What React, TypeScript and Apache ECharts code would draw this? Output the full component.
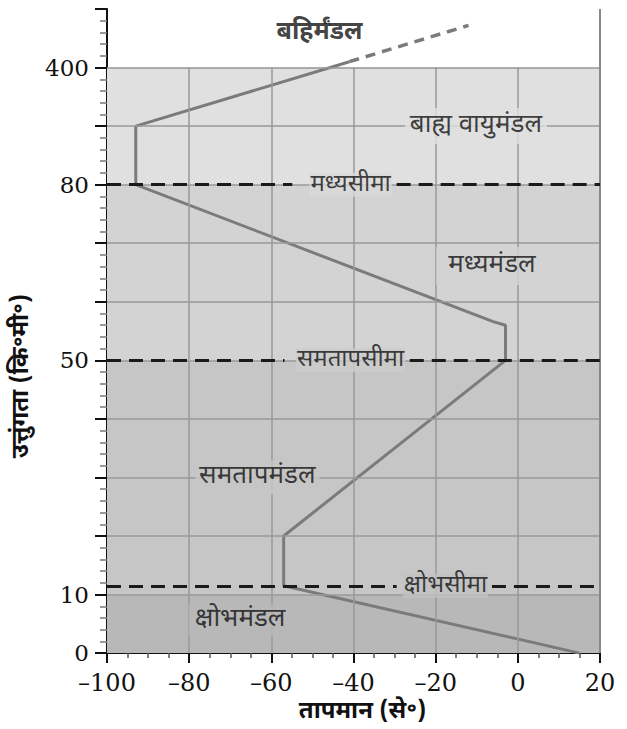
import React, { useEffect, useRef } from 'react';
import * as echarts from 'echarts';

// Altitude axis is drawn on a stretched (row) scale; ticks labelled with real km values
const yTickRows = [0, 1, 5, 8, 10];
const yTickLabels = ['0', '10', '50', '80', '400'];
const yMaxRow = 11;
const xMin = -100;
const xMax = 20;
const xStep = 20;

// Temperature profile (temperature °C, altitude on row scale)
const profileTemps = [15, -57, -57, -3, -3, -6, -93, -93, -41];
const profileRows = [0, 1.15, 2, 5, 5.6, 5.66, 8, 9, 10.1];
const extensionTemps = [-41, -12];
const extensionRows = [10.1, 10.72];

// Layer bands
const bandFrom = [0, 1, 5, 8];
const bandTo = [1, 5, 8, 10];
const bandColors = ['#b8b8b8', '#c6c6c6', '#d3d3d3', '#e0e0e0'];

// Layer names
const layerNames = ['क्षोभमंडल', 'समतापमंडल', 'मध्यमंडल', 'बाह्य वायुमंडल', 'बहिर्मंडल'];
const layerTemps = [-67.6, -63.4, -6.3, -10.2, -48.3];
const layerRows = [0.56, 3, 6.61, 9, 10.59];
const layerBg = ['#b8b8b8', '#c6c6c6', '#d3d3d3', '#e0e0e0', 'transparent'];
const layerPad = [[3, 6], [4, 4], [6, 12], [5, 5], [0, 0]];

// Boundaries (pauses)
const pauseNames = ['क्षोभसीमा', 'समतापसीमा', 'मध्यसीमा'];
const pauseRows = [1.15, 5, 8];
const pauseGapFrom = [-29.5, -56.8, -54.9];
const pauseGapTo = [-6.3, -26.3, -29.5];
const pauseLabelTemps = [-17.6, -40.7, -40.7];
const pauseBg = ['#c2c2c2', '#cccccc', '#d9d9d9'];

// Grid lines
const gridXs = [-80, -60, -40, -20, 0];
const gridRows = [1, 2, 3, 4, 5, 6, 7, 8, 9, 10];

const DEVA = "'Noto Sans Devanagari', 'Noto Serif Devanagari', 'Lohit Devanagari', 'FreeSerif', 'Noto Sans', sans-serif";
const SERIF = "'DejaVu Serif', 'Liberation Serif', serif";

export default function App() {
  const ref = useRef<HTMLDivElement>(null);
  useEffect(() => {
    if (!ref.current) return;
    const chart = echarts.init(ref.current, null, { renderer: 'svg' });
    const noLine = { symbol: ['none', 'none'], silent: true, label: { show: false }, emphasis: { disabled: true } };
    const option: any = {
      animation: false,
      backgroundColor: '#ffffff',
      grid: { left: 107, right: 27, top: 9, bottom: 71, containLabel: false },
      xAxis: {
        type: 'value',
        min: xMin,
        max: xMax,
        interval: xStep,
        axisLine: { show: true, onZero: false, lineStyle: { color: '#111', width: 2 } },
        axisTick: { show: true, length: 10, lineStyle: { color: '#111', width: 2 } },
        minorTick: { show: true, splitNumber: 4, length: 5, lineStyle: { color: '#555', width: 1.5 } },
        splitLine: { show: false },
        axisLabel: {
          margin: 18,
          color: '#111',
          fontSize: 24,
          fontFamily: SERIF,
          formatter: (v: number) => String(v).replace('-', '–'),
        },
        name: 'तापमान (से॰)',
        nameLocation: 'middle',
        nameGap: 45,
        nameTextStyle: { color: '#111', fontSize: 24, fontWeight: 'bold', fontFamily: DEVA, padding: [0, 0, 0, 18] },
      },
      yAxis: {
        type: 'value',
        min: 0,
        max: yMaxRow,
        interval: 1,
        axisLine: { show: true, onZero: false, lineStyle: { color: '#111', width: 2 } },
        axisTick: { show: true, length: 12, lineStyle: { color: '#111', width: 2 } },
        minorTick: { show: true, splitNumber: 5, length: 7, lineStyle: { color: '#777', width: 1.5 } },
        splitLine: { show: false },
        axisLabel: {
          margin: 18,
          color: '#111',
          fontSize: 23,
          fontFamily: SERIF,
          formatter: (v: number) => {
            const i = yTickRows.indexOf(v);
            return i >= 0 ? yTickLabels[i] : '';
          },
        },
        name: 'उत्तुंगता (कि॰मी॰)',
        nameLocation: 'middle',
        nameGap: 58,
        nameTextStyle: { color: '#111', fontSize: 24, fontWeight: 'bold', fontFamily: DEVA, padding: [0, 90, 0, 0] },
      },
      series: [
        {
          type: 'scatter', z: 1, data: [], silent: true,
          markArea: {
            silent: true,
            data: bandFrom.map((f, i) => [
              { coord: [xMin, f], itemStyle: { color: bandColors[i] } },
              { coord: [xMax, bandTo[i]] },
            ]),
          },
        },
        {
          type: 'scatter', z: 2, data: [], silent: true,
          markLine: {
            ...noLine,
            lineStyle: { type: 'solid', color: '#999', width: 1.5 },
            data: [
              ...gridXs.map((x) => [{ coord: [x, 0] }, { coord: [x, 10] }]),
              ...gridRows.map((r) => [{ coord: [xMin, r] }, { coord: [xMax, r] }]),
              [{ coord: [xMax, 0], lineStyle: { color: '#888', width: 2 } }, { coord: [xMax, yMaxRow] }],
            ],
          },
        },
        {
          type: 'scatter', z: 3, data: [], silent: true,
          markLine: {
            ...noLine,
            lineStyle: { type: [14, 8], color: '#1a1a1a', width: 3 },
            data: pauseRows.flatMap((r, i) => [
              [{ coord: [xMin, r] }, { coord: [pauseGapFrom[i], r] }],
              [{ coord: [pauseGapTo[i], r] }, { coord: [xMax, r] }],
            ]),
          },
        },
        {
          type: 'line', z: 4, silent: true, showSymbol: false, symbol: 'none',
          lineStyle: { color: '#7b7b7b', width: 3 },
          data: profileTemps.map((t, i) => [t, profileRows[i]]),
        },
        {
          type: 'line', z: 4, silent: true, showSymbol: false, symbol: 'none',
          lineStyle: { color: '#7b7b7b', width: 3.5, type: [10, 7] },
          data: extensionTemps.map((t, i) => [t, extensionRows[i]]),
        },
        {
          type: 'scatter', z: 5, silent: true, symbolSize: 0,
          data: [
            ...layerNames.map((n, i) => ({
              value: [layerTemps[i], layerRows[i]],
              label: {
                show: true, position: 'inside', formatter: n, color: '#111',
                fontSize: i === 4 ? 25 : 26, fontFamily: DEVA,
                fontWeight: i === 4 ? 'bold' : 'normal',
                backgroundColor: layerBg[i], padding: layerPad[i],
              },
            })),
            ...pauseNames.map((n, i) => ({
              value: [pauseLabelTemps[i], pauseRows[i]],
              label: {
                show: true, position: 'inside', formatter: n, color: '#111',
                fontSize: 24, fontFamily: DEVA, backgroundColor: pauseBg[i], padding: [0, 1],
              },
            })),
          ],
        },
      ],
    };
    chart.setOption(option);
    return () => chart.dispose();
  }, []);
  return <div ref={ref} style={{ position: 'fixed', left: 0, top: 0, width: 627, height: 729 }} />;
}
